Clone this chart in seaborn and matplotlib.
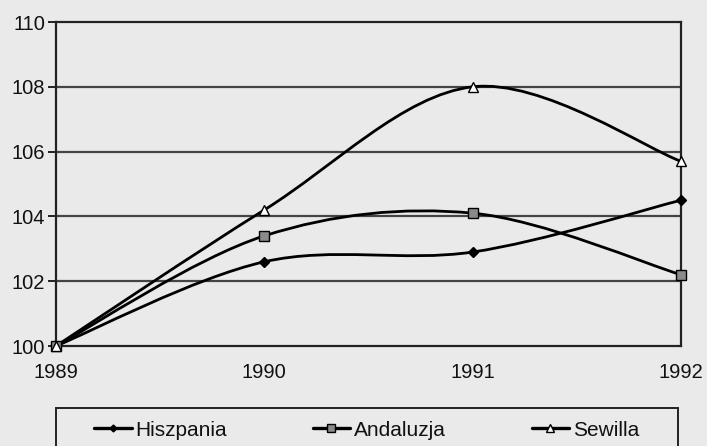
import matplotlib
matplotlib.use("Agg")
import matplotlib.pyplot as plt
from matplotlib.lines import Line2D
from matplotlib.path import Path
from matplotlib.patches import PathPatch, Rectangle
import numpy as np
import pandas as pd
import seaborn as sns

years = [1989, 1990, 1991, 1992]
hiszpania = [100.0, 102.6, 102.9, 104.5]
andaluzja = [100.0, 103.4, 104.1, 102.2]
sewilla = [100.0, 104.2, 108.0, 105.7]
series_names = ["Hiszpania", "Andaluzja", "Sewilla"]

BG = "#eaeaea"
GRID = "#444444"

sns.set_theme(style="white")
plt.rcParams["font.family"] = ["Liberation Sans", "DejaVu Sans"]

df = pd.DataFrame({
    "rok": years * 3,
    "wartosc": hiszpania + andaluzja + sewilla,
    "seria": [n for n in series_names for _ in years],
})

marker_style = {
    "Hiszpania": dict(marker="D", mfc="black", mec="black", ms=5),
    "Andaluzja": dict(marker="s", mfc="#8a8a8a", mec="black", ms=7),
    "Sewilla": dict(marker="^", mfc="white", mec="black", ms=7.5),
}


def smooth_path(xs, ys):
    # bezier segments like excel's "smoothed line"
    pts = np.column_stack([xs, ys]).astype(float)
    n = len(pts)
    verts = [pts[0]]
    codes = [Path.MOVETO]
    for i in range(n - 1):
        p_prev = pts[i - 1] if i > 0 else pts[i]
        p_next = pts[i + 2] if i + 2 < n else pts[i + 1]
        c1 = pts[i] + (pts[i + 1] - p_prev) / 6
        c2 = pts[i + 1] - (p_next - pts[i]) / 6
        verts += [c1, c2, pts[i + 1]]
        codes += [Path.CURVE4] * 3
    return Path(verts, codes)


fig = plt.figure(figsize=(7.07, 4.46), dpi=100, facecolor=BG)
ax = fig.add_axes([56 / 707, 1 - 346 / 446, 625 / 707, 324 / 446])
ax.set_facecolor(BG)

for name in series_names:
    sub = df[df["seria"] == name]
    ax.add_patch(PathPatch(smooth_path(sub["rok"], sub["wartosc"]),
                           facecolor="none", edgecolor="black", lw=2.0, zorder=3))

for name in series_names:
    st = marker_style[name]
    sns.lineplot(data=df[df["seria"] == name], x="rok", y="wartosc", ax=ax,
                 linestyle="", marker=st["marker"], markersize=st["ms"],
                 markerfacecolor=st["mfc"], markeredgecolor=st["mec"],
                 markeredgewidth=1.0, legend=False, zorder=4, clip_on=False)

ax.set_xlim(1989, 1992)
ax.set_ylim(100, 110)
ax.set_yticks(np.arange(100, 111, 2))
ax.set_xticks(years)
ax.set_xlabel("")
ax.set_ylabel("")
for y in np.arange(102, 110, 2):
    ax.axhline(y, color=GRID, lw=1.6, zorder=1)
for side in ax.spines.values():
    side.set_color("#222222")
    side.set_linewidth(1.6)
ax.tick_params(axis="y", left=True, length=6, width=1.4, color="#222222",
               labelsize=14.5, pad=2, labelcolor="#111111")
ax.tick_params(axis="x", length=0, labelsize=14.5, pad=12, labelcolor="#111111")

# legend box, runs off the bottom edge like the scan
fig.patches.append(Rectangle((56 / 707, -0.05), 622 / 707, 0.05 + 1 - 408 / 446,
                             transform=fig.transFigure, facecolor=BG,
                             edgecolor="#222222", lw=1.4, zorder=0))

handles = [Line2D([], [], color="black", lw=2.4, marker=marker_style[n]["marker"],
                  ms=marker_style[n]["ms"] - 1.5, mfc=marker_style[n]["mfc"],
                  mec=marker_style[n]["mec"]) for n in series_names]
leg = fig.legend(handles, series_names, ncol=3, loc="center left",
                 bbox_to_anchor=(94 / 707, 1 - 430 / 446),
                 frameon=False, fontsize=15, handlelength=1.8,
                 handletextpad=0.2, columnspacing=4.1, borderpad=0,
                 borderaxespad=0)
for t in leg.get_texts():
    t.set_color("#111111")

fig.savefig("out.png", dpi=100, facecolor=BG)
